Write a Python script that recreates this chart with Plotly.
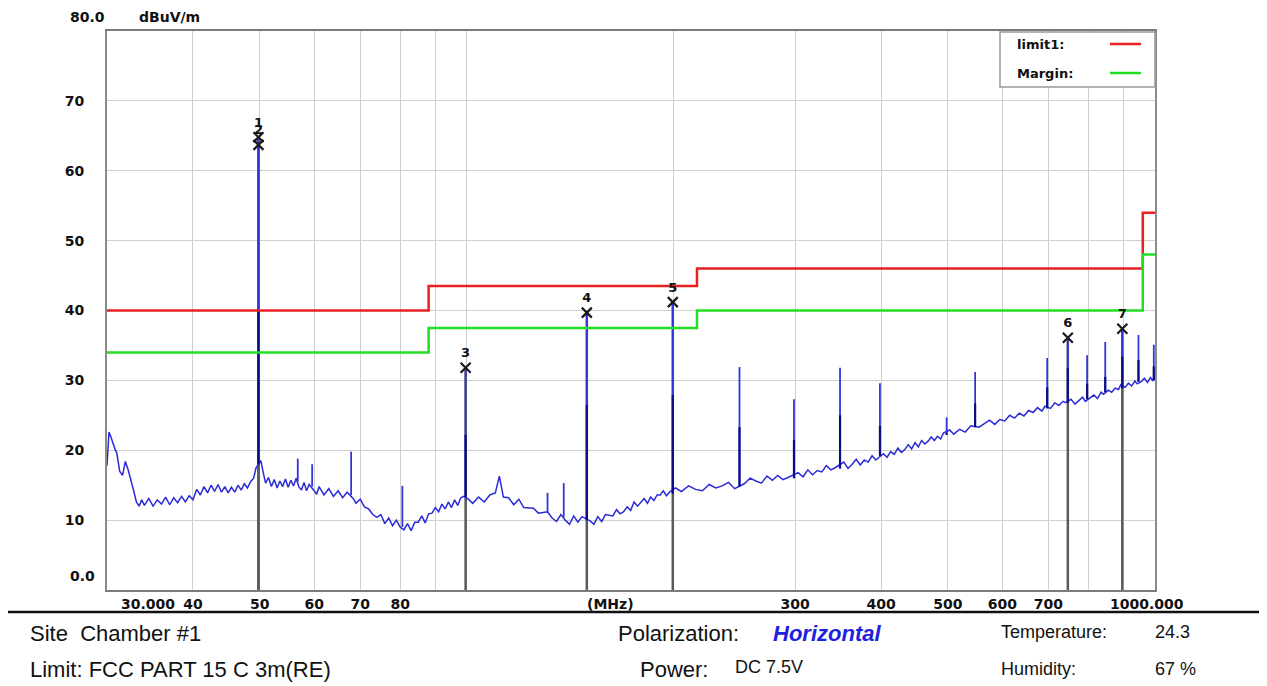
import plotly.graph_objects as go

# ---------------- data ----------------
freq = [30.0, 30.2, 30.4, 30.6, 30.8, 31.0, 31.3, 31.6, 31.9, 32.2, 32.5, 32.8, 33.1, 33.4, 33.7, 34.0,
        34.5, 35.0, 35.5, 36.0, 36.5, 37.0, 37.5, 38.0, 38.5, 39.0, 39.5, 40.0, 40.5, 41.0, 41.5, 42.0,
        42.5, 43.0, 43.5, 44.0, 44.5, 45.0, 45.5, 46.0, 46.5, 47.0, 47.5, 48.0, 48.5, 49.0, 49.4,
        50.2, 50.6, 51.0, 51.5, 52.0, 52.5, 53.0, 53.5, 54.0, 54.5, 55.0, 55.5, 56.0, 56.5, 57.0, 57.5,
        58.0, 58.5, 59.0, 60.0, 60.5, 61.0, 62.0, 63.0, 64.0, 65.0, 66.0, 67.0, 68.5, 69.0, 70.0, 71.0,
        72.0, 73.0, 74.0, 75.0, 76.0, 77.0, 78.0, 79.0, 80.0, 81.0, 82.0, 83.0, 84.0, 85.0, 86.0, 87.0,
        88.0, 89.0, 90.0, 91.0, 92.0, 93.0, 94.0, 95.0, 96.0, 97.0, 98.0, 99.0, 100.5, 102.0, 104.0,
        106.0, 108.0, 110.0, 111.5, 113.0, 115.0, 117.0, 119.0, 121.0, 123.0, 125.0, 127.0, 129.0, 131.0,
        133.0, 135.0, 137.0, 139.0, 141.0, 143.0, 145.0, 147.0, 151.0, 153.0, 155.0, 157.0, 159.0, 161.0,
        163.0, 165.0, 167.0, 169.0, 171.0, 173.0, 175.0, 177.0, 179.0, 181.0, 183.0, 185.0, 187.0, 189.0,
        191.0, 193.0, 195.0, 197.0, 201.0, 205.0, 210.0, 215.0, 220.0, 225.0, 230.0, 235.0, 240.0, 245.0,
        253.0, 258.0, 263.0, 268.0, 273.0, 278.0, 283.0, 288.0, 293.0, 303.0, 308.0, 313.0, 318.0, 323.0,
        328.0, 333.0, 338.0, 343.0, 353.0, 358.0, 363.0, 368.0, 373.0, 378.0, 383.0, 388.0, 393.0, 403.0,
        408.0, 413.0, 418.0, 423.0, 428.0, 433.0, 438.0, 443.0, 448.0, 453.0, 458.0, 463.0, 468.0, 473.0,
        478.0, 483.0, 488.0, 493.0, 503.0, 510.0, 520.0, 530.0, 540.0, 555.0, 565.0, 575.0, 585.0, 595.0,
        605.0, 615.0, 625.0, 635.0, 645.0, 655.0, 665.0, 675.0, 685.0, 692.0, 705.0, 715.0, 725.0, 735.0,
        742.0, 755.0, 765.0, 775.0, 785.0, 792.0, 805.0, 815.0, 825.0, 835.0, 842.0, 855.0, 865.0, 875.0,
        885.0, 892.0, 905.0, 915.0, 925.0, 935.0, 942.0, 955.0, 965.0, 975.0, 985.0, 992.0, 1000.0]
level = [17.8, 22.6, 21.9, 21.0, 20.2, 19.6, 17.0, 16.4, 18.4, 17.2, 15.8, 14.2, 12.6, 12.0, 12.9, 12.1,
         13.1, 12.0, 12.9, 12.3, 13.3, 12.2, 13.2, 12.5, 13.4, 12.6, 13.5, 12.9, 14.4, 13.6, 14.8, 13.9,
         15.0, 14.1, 15.1, 14.0, 14.8, 13.9, 14.7, 14.0, 15.0, 14.3, 15.2, 14.6, 15.5, 16.0, 17.5,
         18.5, 16.8, 15.3, 16.1, 14.8, 15.8, 14.6, 15.6, 14.8, 15.9, 14.7, 15.7, 14.9, 16.0, 14.8, 14.3,
         15.4, 14.2, 15.1, 14.2, 13.7, 14.8, 13.6, 14.5, 13.4, 14.2, 13.2, 14.0, 13.0, 12.4, 13.0, 11.9,
         11.6, 10.8, 10.4, 10.8, 9.5, 10.3, 9.2, 10.0, 9.0, 8.6, 9.5, 8.5, 9.7, 9.7, 10.6, 9.6,
         10.9, 11.0, 11.8, 11.2, 12.3, 11.6, 12.6, 11.8, 12.9, 12.1, 13.2, 13.4, 13.0, 12.4, 13.3,
         12.6, 13.6, 13.9, 16.3, 13.3, 13.2, 12.2, 13.0, 11.8, 11.8, 11.7, 11.0, 11.1, 11.2,
         10.3, 9.8, 10.8, 10.0, 9.4, 10.6, 9.7, 10.5, 9.9, 9.4, 10.5, 9.8, 10.8, 10.7,
         10.6, 11.5, 10.9, 11.2, 11.9, 11.4, 12.6, 12.0, 12.5, 13.1, 12.4, 13.3, 12.8, 13.6,
         13.6, 14.2, 13.5, 14.0, 14.6, 14.1, 14.9, 14.4, 14.2, 15.1, 14.6, 14.9, 15.4, 14.5,
         15.2, 16.0, 15.6, 15.3, 16.3, 15.7, 16.4, 15.8, 16.1, 16.8, 16.2, 17.2, 16.5, 17.1,
         16.9, 17.8, 17.2, 17.5, 18.3, 17.4, 18.0, 18.7, 17.9, 18.6, 18.3, 19.2, 18.6, 19.5,
         19.0, 19.8, 19.4, 20.3, 19.7, 20.1, 20.8, 20.2, 21.1, 20.5, 21.4, 20.9, 21.3, 21.9,
         21.4, 22.0, 21.6, 22.5, 22.9, 22.3, 23.0, 22.6, 23.5, 23.3, 23.8, 24.3, 23.7, 24.4,
         24.2, 25.0, 24.6, 25.3, 24.9, 25.7, 25.4, 26.1, 25.6, 26.3, 26.0, 26.8, 26.4, 27.0,
         26.8, 27.3, 26.6, 27.1, 27.6, 27.0, 27.5, 27.9, 27.4, 28.3, 28.0, 28.6, 28.3, 28.9,
         28.7, 29.4, 29.0, 29.6, 29.2, 29.9, 29.5, 29.8, 30.3, 29.7, 30.4, 30.0, 30.6]

# discrete emissions (spikes): frequency, peak level, darker lower part, foot level
spike_freq = [49.8, 56.8, 59.6, 67.9, 80.6, 99.6, 131.0, 138.3, 149.4, 199.2, 249.0, 298.8, 348.6,
              398.4, 498.0, 547.8, 697.2, 747.0, 796.8, 846.6, 896.4, 946.2, 996.0]
spike_top = [64.8, 18.8, 18.0, 19.8, 14.9, 31.8, 13.9, 15.3, 39.7, 41.2, 31.9, 27.3, 31.8,
             29.6, 24.7, 31.2, 33.2, 36.1, 33.6, 35.5, 37.4, 36.5, 35.1]
spike_mid = [40.0, 15.5, 14.8, 13.6, 9.0, 22.2, 11.0, 10.4, 26.5, 27.9, 23.3, 21.5, 25.0,
             23.5, 22.5, 26.7, 29.0, 31.8, 29.5, 30.5, 33.4, 32.9, 32.0]
spike_foot = [18.0, 15.5, 14.8, 13.6, 9.0, 13.3, 11.0, 10.4, 10.0, 13.8, 14.8, 16.0, 17.4,
              19.2, 22.2, 23.3, 26.0, 26.8, 27.3, 28.3, 28.8, 29.8, 30.0]

marker_no = ["1", "2", "3", "4", "5", "6", "7"]
marker_freq = [49.8, 49.8, 99.6, 149.4, 199.2, 747.0, 896.4]
marker_level = [64.8, 63.7, 31.8, 39.7, 41.2, 36.1, 37.4]

limit_freq = [30, 88, 216, 960, 1000]
limit_level = [40, 43.5, 46, 54, 54]
margin_level = [34, 37.5, 40, 48, 48]

y_ticks = [10, 20, 30, 40, 50, 60, 70]
x_grid = [30, 40, 50, 60, 70, 80, 90, 100, 200, 300, 400, 500, 600, 700, 800, 900, 1000]
x_text = ["", "40", "50", "60", "70", "80", "", "", "", "300", "400", "500", "600", "700", "", "", ""]

# ---------------- layout helpers ----------------
W, H = 1267, 686          # window size
OFF = 8                   # default page (body) margin of the html page
L, R, T, B = 107, 1155, 31, 590   # plot area in window pixels


def px(x):
    return (x - L) / (R - L)


def py(y):
    return (B - y) / (B - T)


AX_FONT = dict(family="DejaVu Sans", size=14, color="#111111")
TXT = "Liberation Sans"

fig = go.Figure()

# marker reference lines (grey, from 0 to marker level)
mx, my = [], []
for f, v in zip(marker_freq, marker_level):
    mx += [f, f, None]
    my += [0, v, None]
fig.add_trace(go.Scatter(x=mx, y=my, mode="lines", line=dict(color="#5a5a5a", width=2.5),
                         hoverinfo="skip", showlegend=False))

# spectrum trace
fig.add_trace(go.Scatter(x=freq, y=level, mode="lines", line=dict(color="#2b2bd6", width=1.5),
                         name="Trace", showlegend=False))

# spikes
sx, sy = [], []
for f, t, b in zip(spike_freq, spike_top, spike_foot):
    sx += [f, f, None]
    sy += [b, t, None]
fig.add_trace(go.Scatter(x=sx, y=sy, mode="lines", line=dict(color="#3434dc", width=1.8),
                         hoverinfo="skip", showlegend=False))
dx, dy = [], []
for f, m, b in zip(spike_freq, spike_mid, spike_foot):
    if m > b:
        dx += [f, f, None]
        dy += [b, m, None]
fig.add_trace(go.Scatter(x=dx, y=dy, mode="lines", line=dict(color="#0c0c86", width=2.2),
                         hoverinfo="skip", showlegend=False))

# limit and margin
fig.add_trace(go.Scatter(x=limit_freq, y=limit_level, mode="lines", line_shape="hv",
                         line=dict(color="#e82020", width=2.5), name="limit1", showlegend=False))
fig.add_trace(go.Scatter(x=limit_freq, y=margin_level, mode="lines", line_shape="hv",
                         line=dict(color="#22dd22", width=2.5), name="Margin", showlegend=False))

# markers
fig.add_trace(go.Scatter(x=marker_freq, y=marker_level, mode="markers+text", text=marker_no,
                         textposition="top center",
                         textfont=dict(family="DejaVu Sans", size=13, color="#111111", weight="bold"),
                         marker=dict(symbol="x-thin", size=10, line=dict(color="#1a1a1a", width=2.2)),
                         showlegend=False))

fig.update_xaxes(type="log", range=[1.4771213, 3.0], tickmode="array", tickvals=x_grid,
                 ticktext=["<b>%s</b>" % t if t else "" for t in x_text],
                 tickfont=AX_FONT, ticks="", showgrid=True, gridcolor="#cfcfcf", gridwidth=1,
                 showline=True, linecolor="#7a7a7a", linewidth=2, mirror=True, zeroline=False,
                 ticklabelstandoff=0)
fig.update_yaxes(range=[0, 80], tickmode="array", tickvals=y_ticks,
                 ticktext=["<b>%d</b>" % v for v in y_ticks], tickfont=AX_FONT, ticks="",
                 showgrid=True, gridcolor="#cfcfcf", gridwidth=1, showline=True,
                 linecolor="#8a8a8a", linewidth=2, mirror=True, zeroline=False,
                 ticklabelstandoff=18)

anns = []


def txt(x, y, s, size=14, family="DejaVu Sans", anchor="left", color="#111111"):
    anns.append(dict(xref="paper", yref="paper", x=px(x), y=py(y), text=s, showarrow=False,
                     xanchor=anchor, yanchor="middle", font=dict(family=family, size=size, color=color)))


txt(68, 17, "<b>80.0</b>")
txt(137, 17, "<b>dBuV/m</b>")
txt(68, 576, "<b>0.0</b>")
txt(119, 604, "<b>30.000</b>")
txt(1108, 604, "<b>1000.000</b>")
txt(610, 604, "<b>(MHz)</b>", anchor="center")

# legend box contents
txt(1015, 44, "<b>limit1:</b>", size=13)
txt(1015, 73, "<b>Margin:</b>", size=13)

# footer
txt(28, 633, "Site  Chamber #1", size=22, family=TXT)
txt(28, 669, "Limit: FCC PART 15 C 3m(RE)", size=22, family=TXT)
txt(616, 633, "Polarization:", size=22, family=TXT)
txt(771, 633, "<b><i>Horizontal</i></b>", size=22, family=TXT, color="#2020e0")
txt(638, 669, "Power:", size=22, family=TXT)
txt(733, 667, "DC 7.5V", size=18, family=TXT)
txt(999, 632, "Temperature:", size=18, family=TXT)
txt(1153, 632, "24.3", size=18, family=TXT)
txt(999, 669, "Humidity:", size=18, family=TXT)
txt(1153, 669, "67 %", size=18, family=TXT)

shapes = [
    dict(type="rect", xref="paper", yref="paper", x0=px(1000), x1=px(1155), y0=py(87), y1=py(32),
         fillcolor="white", line=dict(color="#9a9a9a", width=1.5), layer="above"),
    dict(type="line", xref="paper", yref="paper", x0=px(1110), x1=px(1141), y0=py(44), y1=py(44),
         line=dict(color="#e82020", width=2.5)),
    dict(type="line", xref="paper", yref="paper", x0=px(1110), x1=px(1141), y0=py(73), y1=py(73),
         line=dict(color="#22dd22", width=2.5)),
    dict(type="line", xref="paper", yref="paper", x0=px(OFF), x1=px(1267), y0=py(612), y1=py(612),
         line=dict(color="#111111", width=2.5)),
]

fig.update_layout(width=W - OFF, height=H - OFF,
                  margin=dict(l=L - OFF, r=W - R, t=T - OFF, b=H - B),
                  paper_bgcolor="white", plot_bgcolor="white", annotations=anns, shapes=shapes,
                  showlegend=False)

fig.write_html("out.html")
